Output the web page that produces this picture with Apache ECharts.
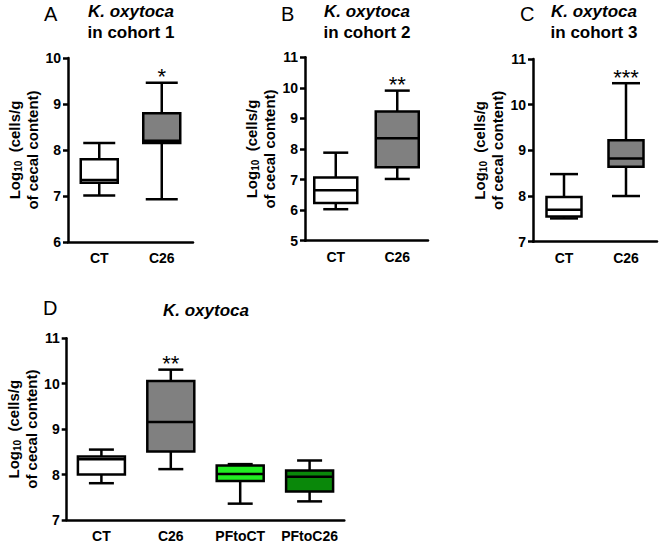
<!DOCTYPE html>
<html>
<head>
<meta charset="utf-8">
<script src="https://cdn.jsdelivr.net/npm/echarts@6/dist/echarts.min.js"></script>
<style>html,body{margin:0;padding:0;background:#fff}#c{width:660px;height:543px}</style>
</head>
<body>
<div id="c"></div>
<script>
// ---- data ----
const catsABC = ['CT', 'C26'];
const catsD = ['CT', 'C26', 'PFtoCT', 'PFtoC26'];
// each box: [min, Q1, median, Q3, max]
const boxA = [[7.01, 7.29, 7.35, 7.80, 8.15], [6.93, 8.15, 8.20, 8.80, 9.46]];
const boxB = [[6.03, 6.23, 6.65, 7.07, 7.88], [7.02, 7.40, 8.35, 9.23, 9.91]];
const boxC = [[7.51, 7.55, 7.70, 7.98, 8.48], [8.00, 8.64, 8.82, 9.22, 10.47]];
const boxD = [[7.81, 8.00, 8.34, 8.40, 8.55], [8.12, 8.51, 9.16, 10.06, 10.31], [7.36, 7.86, 8.01, 8.20, 8.23], [7.41, 7.63, 7.95, 8.09, 8.31]];
const starsA = ['', '*'];
const starsB = ['', '**'];
const starsC = ['', '***'];
const starsD = ['', '**', '', ''];
const yRangeA = [6, 10];
const yRangeB = [5, 11];
const yRangeC = [7, 11];
const yRangeD = [7, 11];
const panelLetters = ['A', 'B', 'C', 'D'];
const titleLine1 = 'K. oxytoca';
const titleLine2 = ['in cohort 1', 'in cohort 2', 'in cohort 3', ''];

// ---- styles ----
const fillsABC = ['#ffffff', '#808080'];
const fillsD = ['#ffffff', '#808080', '#22ee22', '#0a880a'];
const FONT = '"Liberation Sans", Arial, sans-serif';
const LW = 2.5;

const panels = [
  {cats: catsABC, box: boxA, stars: starsA, yr: yRangeA, fills: fillsABC, grid: {left: 68, top: 58, width: 125, height: 184}, boxW: 37, capW: 32},
  {cats: catsABC, box: boxB, stars: starsB, yr: yRangeB, fills: fillsABC, grid: {left: 305, top: 57.3, width: 123, height: 183.4}, boxW: 43, capW: 25},
  {cats: catsABC, box: boxC, stars: starsC, yr: yRangeC, fills: fillsABC, grid: {left: 533, top: 59, width: 124, height: 182.7}, boxW: 35, capW: 28},
  {cats: catsD, box: boxD, stars: starsD, yr: yRangeD, fills: fillsD, grid: {left: 66.7, top: 338.3, width: 277.6, height: 183.4}, boxW: 47, capW: 25}
];

function makeRender(p) {
  return function (params, api) {
    const i = api.value(0);
    const v = [api.value(1), api.value(2), api.value(3), api.value(4), api.value(5)];
    const x = api.coord([i, v[0]])[0];
    const y = v.map(function (val) { return api.coord([i, val])[1]; });
    const bw = p.boxW / 2, cw = p.capW / 2;
    const st = {stroke: '#000', lineWidth: LW, fill: null};
    const children = [
      {type: 'line', shape: {x1: x, y1: y[4], x2: x, y2: y[3]}, style: st},
      {type: 'line', shape: {x1: x, y1: y[0], x2: x, y2: y[1]}, style: st},
      {type: 'line', shape: {x1: x - cw, y1: y[4], x2: x + cw, y2: y[4]}, style: st},
      {type: 'line', shape: {x1: x - cw, y1: y[0], x2: x + cw, y2: y[0]}, style: st},
      {type: 'rect', shape: {x: x - bw, y: y[3], width: 2 * bw, height: y[1] - y[3]}, style: {stroke: '#000', lineWidth: LW, fill: p.fills[i]}},
      {type: 'line', shape: {x1: x - bw, y1: y[2], x2: x + bw, y2: y[2]}, style: st}
    ];
    const s = p.stars[i];
    if (s) {
      children.push({type: 'text', style: {text: s, x: x, y: y[4] + 5, align: 'center', verticalAlign: 'bottom', font: 'normal 22px ' + FONT, fill: '#000'}});
    }
    return {type: 'group', children: children};
  };
}

const grids = [], xAxes = [], yAxes = [], series = [];
panels.forEach(function (p, k) {
  grids.push(p.grid);
  xAxes.push({
    type: 'category', gridIndex: k, data: p.cats, boundaryGap: true,
    axisLine: {lineStyle: {color: '#000', width: LW}},
    axisTick: {alignWithLabel: true, length: 5, lineStyle: {color: '#000', width: LW}},
    axisLabel: {color: '#000', fontWeight: 'bold', fontSize: 14, fontFamily: FONT, margin: 9, interval: 0, hideOverlap: false},
    splitLine: {show: false}
  });
  yAxes.push({
    type: 'value', gridIndex: k, min: p.yr[0], max: p.yr[1], interval: 1,
    axisLine: {show: true, lineStyle: {color: '#000', width: LW}},
    axisTick: {show: true, length: 5, lineStyle: {color: '#000', width: LW}},
    axisLabel: {color: '#000', fontWeight: 'bold', fontSize: 14, fontFamily: FONT, margin: 7},
    splitLine: {show: false},
    name: '{a|Log}{s|10}{a|  (cells/g}\n{a|of cecal content)}',
    nameLocation: 'middle', nameRotate: 90, nameGap: 26,
    nameTextStyle: {
      color: '#000', fontFamily: FONT, lineHeight: 18,
      rich: {
        a: {fontSize: 15, fontWeight: 'bold', fontFamily: FONT, color: '#000', lineHeight: 18},
        s: {fontSize: 10, fontWeight: 'bold', fontFamily: FONT, color: '#000', verticalAlign: 'bottom', lineHeight: 14}
      }
    }
  });
  series.push({
    type: 'custom', xAxisIndex: k, yAxisIndex: k,
    renderItem: makeRender(p),
    encode: {x: 0, y: [1, 2, 3, 4, 5]},
    data: p.box.map(function (b, i) { return [i].concat(b); }),
    silent: true
  });
});

const titlePos = [
  {lx: 44, ly: 4, tx: 131, ty: 3},
  {lx: 281, ly: 4, tx: 367, ty: 3},
  {lx: 520, ly: 4, tx: 594, ty: 3},
  {lx: 43, ly: 298, tx: 206, ty: 302}
];
const graphics = [];
titlePos.forEach(function (t, k) {
  graphics.push({type: 'text', left: t.lx, top: t.ly, style: {text: panelLetters[k], font: 'normal 20px ' + FONT, fill: '#000'}});
  graphics.push({type: 'text', x: t.tx, y: t.ty, style: {text: titleLine1, font: 'italic bold 17px ' + FONT, fill: '#000', align: 'center', verticalAlign: 'top'}});
  if (titleLine2[k]) {
    graphics.push({type: 'text', x: t.tx, y: t.ty + 21, style: {text: titleLine2[k], font: 'bold 17px ' + FONT, fill: '#000', align: 'center', verticalAlign: 'top'}});
  }
});

const chart = echarts.init(document.getElementById('c'), null, {renderer: 'svg'});
chart.setOption({
  backgroundColor: '#fff',
  animation: false,
  grid: grids, xAxis: xAxes, yAxis: yAxes, series: series,
  graphic: graphics
});
</script>
</body>
</html>
